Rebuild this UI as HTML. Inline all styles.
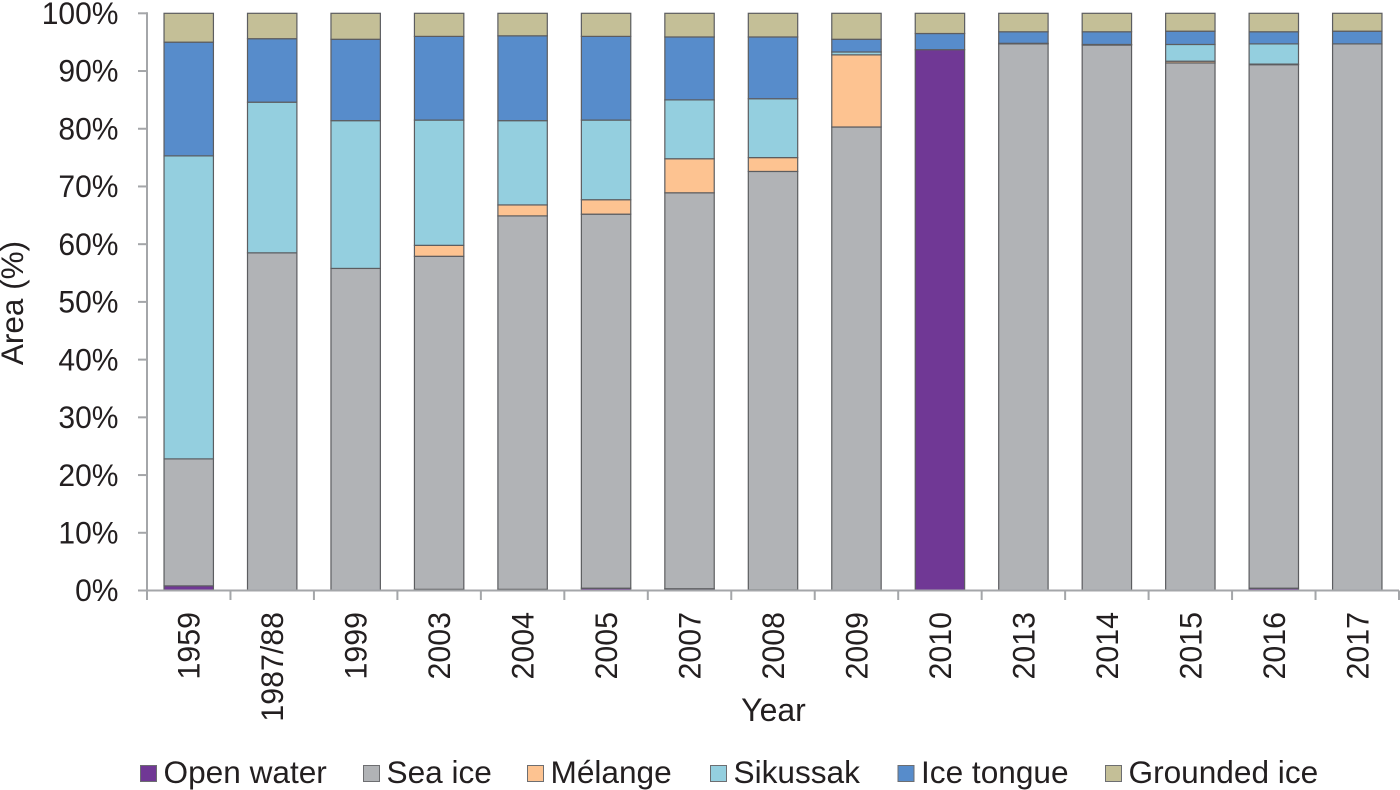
<!DOCTYPE html>
<html lang="en">
<head>
<meta charset="utf-8">
<title>Area by year</title>
<style>
html,body{margin:0;padding:0;background:#fff;width:1400px;height:790px;overflow:hidden}
svg{display:block}
text{font-family:"Liberation Sans",Arial,sans-serif;font-size:30px;fill:#231f20}
</style>
</head>
<body>
<svg id="chart" width="1400" height="790" viewBox="0 0 1400 790" xmlns="http://www.w3.org/2000/svg">
  <g id="bars"></g>
  <g id="axes"></g>
  <text x="773.5" y="721" text-anchor="middle" style="font-size:32px">Year</text>
  <text transform="translate(23,303) rotate(-90)" text-anchor="middle" style="font-size:31.5px">Area (%)</text>
  <g id="legend"></g>
</svg>
<script>
const categories = ['1959','1987/88','1999','2003','2004','2005','2007','2008','2009','2010','2013','2014','2015','2016','2017'];
const seriesNames = ['Open water','Sea ice','Mélange','Sikussak','Ice tongue','Grounded ice'];
const openWater = [0.8,0,0,0.2,0.2,0.4,0.3,0.1,0,93.7,0,0,0,0.4,0];
const seaIce = [22,58.5,55.8,57.7,64.7,64.8,68.6,72.5,80.3,0,94.7,94.5,91.4,90.7,94.7];
const melange = [0,0,0,1.9,1.9,2.5,5.9,2.4,12.5,0,0,0.1,0.3,0.1,0];
const sikussak = [52.5,26.1,25.6,21.7,14.6,13.8,10.2,10.2,0.5,0,0.1,0,2.9,3.5,0];
const iceTongue = [19.7,11,14.1,14.5,14.7,14.5,10.9,10.7,2.2,2.8,2,2.2,2.3,2.1,2.2];
const groundedIce = [5,4.4,4.5,4,3.9,4,4.1,4.1,4.5,3.5,3.2,3.2,3.1,3.2,3.1];
const yTicks = [0,10,20,30,40,50,60,70,80,90,100];
const seriesValues = [openWater,seaIce,melange,sikussak,iceTongue,groundedIce];
const seriesColors = ['#703895','#b1b3b6','#fdc391','#94cfdf','#578ccb','#c4bf97'];
const legendSwatchX = [140,363,527,710,897.5,1105];

const NS = 'http://www.w3.org/2000/svg';
const left = 147, right = 1399, top0 = 13.3, bottom = 590.5;
const band = (right - left) / categories.length;
const barW = 49.4;
const xScale = i => left + band * i + band / 2;
const yScale = v => bottom - (bottom - top0) * v / 100;

function mk(tag, attrs, parent, txt) {
  const el = document.createElementNS(NS, tag);
  for (const k in attrs) el.setAttribute(k, attrs[k]);
  if (txt !== undefined) el.textContent = txt;
  parent.appendChild(el);
  return el;
}

const barsG = document.getElementById('bars');
categories.forEach((c, i) => {
  let acc = 0;
  seriesValues.forEach((vals, s) => {
    const v = vals[i];
    if (v <= 0) return;
    const y1 = yScale(acc + v), y0 = yScale(acc);
    const r = mk('rect', {x: xScale(i) - barW / 2, y: y1, width: barW, height: y0 - y1,
      fill: seriesColors[s], stroke: '#5c5d60', 'stroke-width': 1.2}, barsG);
    
    
    acc += v;
  });
});

const axesG = document.getElementById('axes');
const axisColor = '#a4a6a9';
const yLine = mk('line', {x1: left, x2: left, y1: top0 - 1, y2: bottom + 1, stroke: axisColor, 'stroke-width': 2}, axesG);


const xLine = mk('line', {x1: 138, x2: right, y1: bottom, y2: bottom, stroke: axisColor, 'stroke-width': 2}, axesG);



yTicks.forEach(t => {
  const y = yScale(t);
  const tk = mk('line', {x1: 138, x2: left, y1: y, y2: y, stroke: axisColor, 'stroke-width': 2}, axesG);
  
  
  const lb = mk('text', {transform: 'translate(118.5,' + (y + 10.7) + ') scale(0.95,1)', 'text-anchor': 'end', style: 'font-size:31.6px'}, axesG, t + '%');
  
  
});

for (let i = 0; i <= categories.length; i++) {
  const x = left + band * i;
  const tk = mk('line', {x1: x, x2: x, y1: bottom, y2: 600, stroke: axisColor, 'stroke-width': 2}, axesG);
  
  
}
categories.forEach((c, i) => {
  const lb = mk('text', {transform: 'translate(' + (xScale(i) + 11) + ',612) rotate(-90) scale(0.96,1)', 'text-anchor': 'end', style: 'font-size:31.6px'}, axesG, c);
  
  
});

const legendG = document.getElementById('legend');
seriesNames.forEach((n, s) => {
  const sw = mk('rect', {x: legendSwatchX[s] + 0.5, y: 765.5, width: 16, height: 16,
    fill: seriesColors[s], stroke: '#6d6e71', 'stroke-width': 1}, legendG);
  
  
  const lb = mk('text', {x: legendSwatchX[s] + 23.5, y: 783, style: 'font-size:31.6px'}, legendG, n);
  
  
});
</script>
</body>
</html>
